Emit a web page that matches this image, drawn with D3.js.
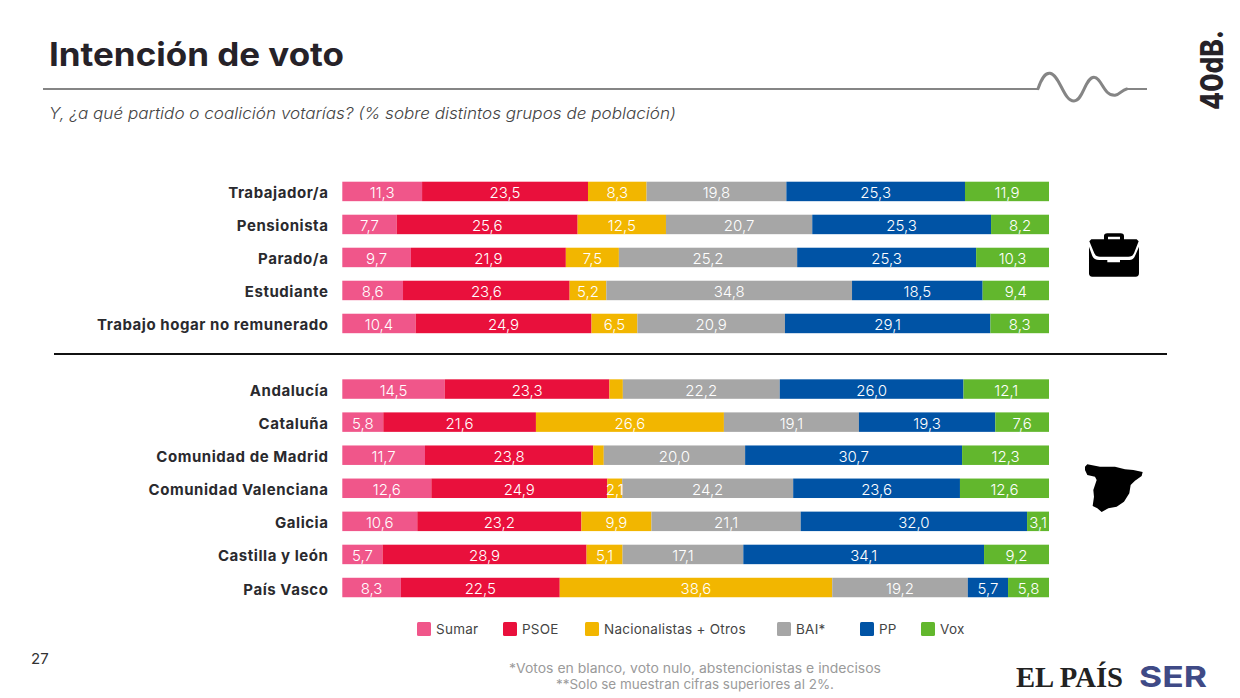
<!DOCTYPE html>
<html lang="es">
<head>
<meta charset="utf-8">
<title>Intención de voto</title>
<script src="https://cdn.jsdelivr.net/npm/d3@7/dist/d3.min.js"></script>
<style>
html,body{margin:0;padding:0;background:#fff}
svg{display:block}
text{font-family:Inter,"Open Sans",sans-serif}
</style>
</head>
<body>
<svg id="c" width="1240" height="698"></svg>
<script>
const employment = ["Trabajador/a","Pensionista","Parado/a","Estudiante","Trabajo hogar no remunerado"];
const regions = ["Andalucía","Cataluña","Comunidad de Madrid","Comunidad Valenciana","Galicia","Castilla y león","País Vasco"];
const seriesNames = ["Sumar","PSOE","Nacionalistas + Otros","BAI*","PP","Vox"];
const seriesColors = ["#f0568a","#e9103c","#f2b600","#a6a6a6","#0053a5","#62b72d"];

const sumar = [11.3,7.7,9.7,8.6,10.4, 14.5,5.8,11.7,12.6,10.6,5.7,8.3];
const psoe  = [23.5,25.6,21.9,23.6,24.9, 23.3,21.6,23.8,24.9,23.2,28.9,22.5];
const nac   = [8.3,12.5,7.5,5.2,6.5, 1.9,26.6,1.5,2.1,9.9,5.1,38.6];
const bai   = [19.8,20.7,25.2,34.8,20.9, 22.2,19.1,20.0,24.2,21.1,17.1,19.2];
const pp    = [25.3,25.3,25.3,18.5,29.1, 26.0,19.3,30.7,23.6,32.0,34.1,5.7];
const vox   = [11.9,8.2,10.3,9.4,8.3, 12.1,7.6,12.3,12.6,3.1,9.2,5.8];

const seriesValues = [sumar,psoe,nac,bai,pp,vox];
const categories = employment.concat(regions);
const rows = categories.map((name,i)=>{
  const r = {name};
  seriesNames.forEach((s,j)=>{ r[s]=seriesValues[j][i]; });
  return r;
});

const svg = d3.select("#c");
const fmt = v => v.toFixed(1).replace(".",",");

const x = d3.scaleLinear().domain([0,1]).range([342.3,1049]);
const yTop = d3.scaleBand().domain(employment).range([175.1,339.8]).paddingInner(0.41).paddingOuter(0.2);
const yBot = d3.scaleBand().domain(regions).range([372.7,603.9]).paddingInner(0.41).paddingOuter(0.2);
const y = c => employment.includes(c) ? yTop(c) : yBot(c);
const bh = yTop.bandwidth();
const color = d3.scaleOrdinal().domain(seriesNames).range(seriesColors);

const stacked = d3.stack().keys(seriesNames).offset(d3.stackOffsetExpand)(rows);

const layers = svg.append("g").selectAll("g").data(stacked).join("g").attr("fill",d=>color(d.key));
layers.selectAll("rect").data(d=>d).join("rect")
  .attr("x",d=>x(d[0])).attr("width",d=>x(d[1])-x(d[0]))
  .attr("y",d=>y(d.data.name)).attr("height",bh);

const vals = svg.append("g").selectAll("g").data(stacked).join("g");
vals.selectAll("text").data(d=>d.map(p=>({p,key:d.key}))).join("text")
  .filter(d=>d.p.data[d.key]>2)
  .attr("x",d=>(x(d.p[0])+x(d.p[1]))/2)
  .attr("y",d=>y(d.p.data.name)+bh/2+1)
  .attr("text-anchor","middle").attr("dominant-baseline","central")
  .attr("fill","#fff").attr("font-size",15).attr("font-weight",300)
  .text(d=>fmt(d.p.data[d.key]));

svg.append("g").selectAll("text").data(categories).join("text")
  .attr("x",328.5).attr("y",d=>y(d)+bh/2+1.5)
  .attr("text-anchor","end").attr("dominant-baseline","central")
  .attr("fill","#2a2a2e").attr("font-size",15).attr("font-weight",700).attr("letter-spacing",0.55)
  .text(d=>d);

// title block
svg.append("text").attr("x",49).attr("y",66).attr("font-size",32).attr("font-weight",700)
  .attr("fill","#262228").attr("textLength",295).attr("lengthAdjust","spacingAndGlyphs").text("Intención de voto");
svg.append("text").attr("x",49).attr("y",119).attr("font-size",15.5).attr("font-style","italic").attr("font-weight",300)
  .attr("fill","#444").attr("textLength",627).attr("lengthAdjust","spacingAndGlyphs")
  .text("Y, ¿a qué partido o coalición votarías? (% sobre distintos grupos de población)");

// header rule with wave
svg.append("path").attr("fill","none").attr("stroke","#858585").attr("stroke-width",2)
  .attr("d","M43 89H1038M1127 89H1147");
svg.append("path").attr("fill","none").attr("stroke","#858585").attr("stroke-width",9)
  .attr("stroke-linecap","round")
  .attr("transform","translate(1000,20) scale(0.3333)")
  .attr("d","M114 206C125 175 135 158 150 160C180 165 190 243 222 243C250 243 255 172 282 172C305 172 310 228 345 226C360 224 365 210 380 207");

// separator
svg.append("line").attr("x1",54).attr("x2",1167).attr("y1",354).attr("y2",354).attr("stroke","#111").attr("stroke-width",2);

// 40dB logo
svg.append("text").attr("transform","translate(1223,110) rotate(-90)").attr("font-size",31).attr("font-weight",800)
  .attr("fill","#262228").attr("textLength",80).attr("lengthAdjust","spacingAndGlyphs").text("40dB.");

// briefcase icon
const bc = svg.append("g").attr("transform","translate(1000,20) scale(0.3333)");
bc.append("path").attr("fill","#000").attr("fill-rule","evenodd")
  .attr("d","M312 658V648Q312 640 322 640H362Q372 640 372 648V658H410L416 664L402 700Q398 710 385 710H300Q287 710 283 700L268 664L274 658ZM324 650V658H360V650Z");
bc.append("path").attr("fill","#000")
  .attr("d","M267 680L277 708Q282 720 298 720H322V727H360V720H388Q400 720 405 708L417 680V760Q417 770 407 770H277Q267 770 267 760Z");

// Spain silhouette
svg.append("path").attr("fill","#000").attr("transform","translate(1000,440) scale(0.3333)")
  .attr("d","M255 80L262 73L300 80L345 80L375 88L400 90L428 96L425 108L405 122L392 135L388 160L372 185L350 200L325 205L305 216L292 205L278 198L282 170L280 150L290 120L285 110L262 105L255 90Z");

// legend
const legendX = [417,503,585,777,860,921];
const lg = svg.append("g").selectAll("g").data(seriesNames).join("g")
  .attr("transform",(d,i)=>`translate(${legendX[i]},622)`);
lg.append("rect").attr("width",14).attr("height",14).attr("y",0).attr("rx",1.5).attr("fill",d=>color(d));
lg.append("text").attr("x",19).attr("y",6.5).attr("dominant-baseline","central")
  .attr("font-size",13.5).attr("letter-spacing",0.25).attr("fill","#444").text(d=>d);

// page number and footnotes
svg.append("text").attr("x",31).attr("y",664).attr("font-size",15).attr("fill","#333").text("27");
svg.append("text").attr("x",695).attr("y",673).attr("text-anchor","middle").attr("font-size",13).attr("fill","#9a9a9a")
  .attr("textLength",372).attr("lengthAdjust","spacingAndGlyphs")
  .text("*Votos en blanco,  voto nulo, abstencionistas e indecisos");
svg.append("text").attr("x",695).attr("y",689).attr("text-anchor","middle").attr("font-size",13).attr("fill","#9a9a9a")
  .attr("textLength",278).attr("lengthAdjust","spacingAndGlyphs")
  .text("**Solo se muestran cifras superiores al 2%.");

// publisher marks
svg.append("text").attr("x",1016).attr("y",687).attr("font-size",29).attr("font-weight",700)
  .style("font-family","'Liberation Serif',serif").attr("fill","#222")
  .attr("textLength",107).attr("lengthAdjust","spacingAndGlyphs").text("EL PAÍS");
svg.append("text").attr("x",1139).attr("y",687).attr("font-size",29).attr("font-weight",700)
  .attr("fill","#3f4a86").attr("textLength",68).attr("lengthAdjust","spacingAndGlyphs").text("SER");
</script>
</body>
</html>
